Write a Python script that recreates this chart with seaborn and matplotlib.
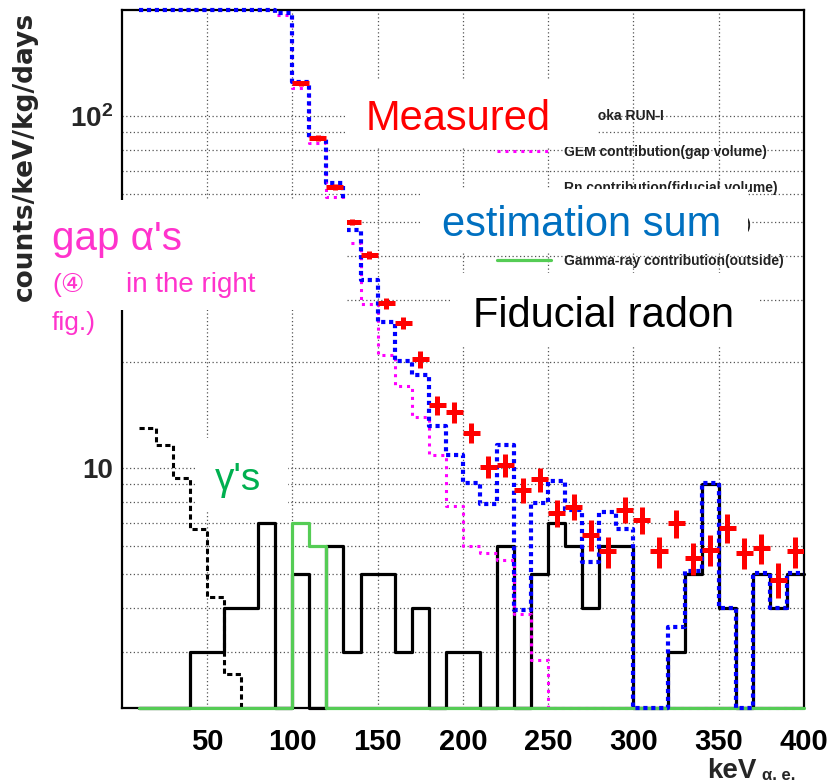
import numpy as np
import pandas as pd
import matplotlib
matplotlib.use("Agg")
import matplotlib.pyplot as plt
from matplotlib.lines import Line2D
from matplotlib.patches import Rectangle
from matplotlib.ticker import FixedLocator, MultipleLocator, NullFormatter
import seaborn as sns

# ---------------------------------------------------------------- data
# 10 keV bins covering 10 - 400 keV (lower edges)
bin_lo = list(range(10, 400, 10))
bin_hi_last = 400

# estimated total (sum of all components)
sum_est = [200, 200, 200, 200, 200, 200, 200, 200, 196, 125, 86.7, 64.6,
           47.4, 34.2, 26.0, 20.2, 18.4, 13.2, 10.9, 9.1, 7.9, 11.6, 3.95,
           7.95, 9.2, 7.6, 5.4, 7.5, 6.7, 0, 0, 3.55, 5.1, 9.05, 4.0, 0,
           5.05, 4.0, 5.05]

# GEM contribution (gap volume)
gem_gap = [200, 200, 200, 200, 200, 200, 200, 200, 193, 120, 83.6, 59.0,
           43.5, 29.2, 21.0, 17.1, 14.0, 10.9, 7.8, 6.0, 5.75, 5.5, 3.85,
           2.85, 0, 0, 0, 0, 0, 0, 0, 0, 0, 0, 0, 0, 0, 0, 0]

# Rn contribution (fiducial volume)
rn_fid = [0, 0, 0, 3, 3, 4, 4, 7, 0, 5, 0, 6, 3, 5, 5, 3, 4, 0, 3, 3, 0, 6,
          0, 5, 7, 6, 4, 6, 6, 0, 0, 3, 5, 9, 4, 0, 5, 4, 5]

# Gamma-ray contribution (outside)
gamma_out = [0, 0, 0, 0, 0, 0, 0, 0, 0, 7, 6, 0, 0, 0, 0, 0, 0, 0, 0, 0, 0,
             0, 0, 0, 0, 0, 0, 0, 0, 0, 0, 0, 0, 0, 0, 0, 0, 0, 0]

# low-energy component (dashed black)
low_edges = [10, 20, 30, 40, 50, 60, 70]
low_vals = [13.0, 11.6, 9.4, 6.7, 4.3, 2.6, 0.0]

# Kamioka RUN-I measurement
meas_x = [105, 115, 125, 135, 145, 155, 165, 175, 185, 195, 205, 215, 225,
          235, 245, 255, 265, 275, 285, 295, 305, 315, 325, 335, 345, 355,
          365, 375, 385, 395]
meas_y = [124, 86.5, 63.0, 50.1, 40.3, 29.4, 25.8, 20.4, 15.1, 14.4, 12.6,
          10.1, 10.2, 8.67, 9.3, 7.45, 7.78, 6.47, 5.8, 7.62, 7.13, 5.8,
          6.98, 5.55, 5.86, 6.76, 5.74, 5.93, 4.82, 5.8]
meas_err = [2.0, 1.7, 1.3, 1.0, 1.1, 1.0, 1.0, 1.1, 0.9, 1.0, 0.85, 0.75,
            0.75, 0.72, 0.73, 0.65, 0.66, 0.65, 0.58, 0.65, 0.63, 0.58, 0.65,
            0.57, 0.58, 0.64, 0.58, 0.58, 0.55, 0.58]
meas_halfwidth = 5

legend_labels = ["Kamioka RUN-I", "GEM contribution(gap volume)",
                 "Rn contribution(fiducial volume)",
                 "Total estimation(all sources)",
                 "Gamma-ray contribution(outside)"]

YMIN, YMAX = 2.08, 200
XMIN, XMAX = 0, 400

# ---------------------------------------------------------------- style
W, H = 832, 784
sns.set_theme(style="white")
plt.rcParams["font.family"] = ["Liberation Sans", "DejaVu Sans"]
plt.rcParams["mathtext.fontset"] = "custom"
plt.rcParams["mathtext.bf"] = "Liberation Sans:bold"
plt.rcParams["mathtext.rm"] = "Liberation Sans"

fig = plt.figure(figsize=(W / 100, H / 100), dpi=100)
fig.patch.set_facecolor("white")


def px_rect(x0, y0, x1, y1):
    """figure-fraction rectangle from pixel corners (y measured from top)"""
    return [x0 / W, 1 - y1 / H, (x1 - x0) / W, (y1 - y0) / H]


ax = fig.add_axes(px_rect(121.7, 10, 804, 708.3))
ax.set_facecolor("white")


def step_frame(lo_edges, values, last_edge):
    """histogram contents as a steps-post table; empty bins rest on the frame"""
    v = np.clip(np.asarray(values, dtype=float), YMIN, YMAX)
    xs = list(lo_edges) + [last_edge]
    ys = list(v) + [v[-1]]
    return pd.DataFrame({"E": xs, "v": ys})


def draw_hist(df, color, lw, ls, z):
    sns.lineplot(data=df, x="E", y="v", ax=ax, color=color, lw=lw,
                 linestyle=ls, drawstyle="steps-post", estimator=None,
                 sort=False, errorbar=None, zorder=z, clip_on=False)


draw_hist(step_frame(bin_lo, rn_fid, bin_hi_last), "black", 2.3, "-", 3.0)
draw_hist(pd.DataFrame({"E": low_edges,
                        "v": np.clip(low_vals, YMIN, YMAX)}),
          "black", 2.2, (0, (1.7, 1.1)), 3.1)
draw_hist(step_frame(bin_lo, gem_gap, bin_hi_last), "#ff00ff", 2.2,
          (0, (1, 1.6)), 3.2)
draw_hist(step_frame(bin_lo, gamma_out, bin_hi_last), "#55cc55", 2.3, "-", 3.3)
draw_hist(step_frame(bin_lo, sum_est, bin_hi_last), "#0000ff", 3.0,
          (0, (1, 0.9)), 3.5)

ax.errorbar(meas_x, meas_y, yerr=meas_err, xerr=meas_halfwidth, fmt="none",
            ecolor="#ff0000", elinewidth=3.6, capsize=0, zorder=4)

# ---------------------------------------------------------------- axes
ax.set_yscale("log")
ax.set_xlim(XMIN, XMAX)
ax.set_ylim(YMIN, YMAX)
ax.set_xlabel("")
ax.set_ylabel("")

ax.set_xticks([50, 100, 150, 200, 250, 300, 350, 400])
ax.set_xticklabels(["50", "100", "150", "200", "250", "300", "350", "400"],
                   fontsize=21, fontweight="bold")
ax.xaxis.set_minor_locator(MultipleLocator(10))

ax.yaxis.set_major_locator(FixedLocator([10, 100]))
ax.set_yticklabels(["10", r"$\mathbf{10^{2}}$"], fontsize=20,
                   fontweight="bold")
ax.yaxis.set_minor_locator(FixedLocator([3, 4, 5, 6, 7, 8, 9,
                                         20, 30, 40, 50, 60, 70, 80, 90]))
ax.yaxis.set_minor_formatter(NullFormatter())

ax.tick_params(axis="x", which="major", direction="in", length=9, width=1.4,
               pad=14, top=False, colors="black")
ax.tick_params(axis="x", which="minor", direction="in", length=5, width=1.2,
               top=False)
ax.tick_params(axis="y", which="major", direction="in", length=16, width=1.6,
               pad=6, right=False)
ax.tick_params(axis="y", which="minor", direction="in", length=7, width=1.4,
               right=False)

ax.set_axisbelow(True)
ax.xaxis.grid(True, which="major", color="#555555", lw=0.9,
              linestyle=(0, (1, 2)))
ax.yaxis.grid(True, which="both", color="#555555", lw=0.9,
              linestyle=(0, (1, 2)))
for sp in ax.spines.values():
    sp.set_visible(True)
    sp.set_color("black")
    sp.set_linewidth(1.6)

# legend of the histogram components (the Rn row carries no drawn key)
handles = [
    Line2D([], [], color="#ff0000", marker="+", ls="none", markersize=12,
           mew=3),
    Line2D([], [], color="#ff00ff", lw=2.2, ls=(0, (1, 1.6))),
    Line2D([], [], color="black", lw=2.3, ls="none"),
    Line2D([], [], color="#0000ff", lw=3.0, ls=(0, (1, 0.9))),
    Line2D([], [], color="#55cc55", lw=2.3),
]
leg = ax.legend(handles, legend_labels, loc="upper left",
                bbox_to_anchor=(497 / W, 1 - 109 / H),
                bbox_transform=fig.transFigure, frameon=False,
                prop={"family": "Liberation Sans", "weight": "bold",
                      "size": 10},
                handlelength=3.9, handletextpad=0.94, labelspacing=1.6,
                borderpad=0, borderaxespad=0)
for t in leg.get_texts():
    t.set_color("#222222")
leg.set_zorder(5)

# ---------------------------------------------------------------- annotations
for (x0, y0, x1, y1) in [(45, 200, 347, 310),     # gap alphas
                         (347, 79, 598, 147),     # measured
                         (420, 189, 748, 252),    # estimation sum
                         (452, 273, 760, 345),    # fiducial radon
                         (197, 438, 288, 512)]:   # gammas
    fig.add_artist(Rectangle(px_rect(x0, y0, x1, y1)[:2],
                             (x1 - x0) / W, (y1 - y0) / H,
                             transform=fig.transFigure, facecolor="white",
                             edgecolor="none", zorder=10))


def ftext(x, y, s, **kw):
    fig.text(x / W, 1 - y / H, s, va="baseline", ha="left", zorder=11, **kw)


ftext(366, 130, "Measured", color="#ff0000", fontsize=30)
ftext(442, 236, "estimation sum", color="#0070c0", fontsize=30)
ftext(473, 327, "Fiducial radon", color="black", fontsize=30)
ftext(52, 250, "gap \u03b1's", color="#ff33cc", fontsize=29)
ftext(52, 292, "(\u2463", color="#ff33cc", fontsize=19,
      family=["Liberation Sans", "DejaVu Sans"])
ftext(126, 292, "in the right", color="#ff33cc", fontsize=20)
ftext(52, 330, "fig.)", color="#ff33cc", fontsize=19)
ftext(215, 490, "\u03b3's", color="#00b050", fontsize=28)

fig.text(25 / W, 1 - 156 / H, "counts/keV/kg/days", rotation=90,
         ha="center", va="center", fontsize=19, fontweight="bold",
         family="DejaVu Sans")
ftext(707, 778, "keV", fontsize=20, fontweight="bold")
ftext(762, 780, "\u03b1. e.", fontsize=12, fontweight="bold")

fig.savefig("out.png", dpi=100, facecolor="white")
